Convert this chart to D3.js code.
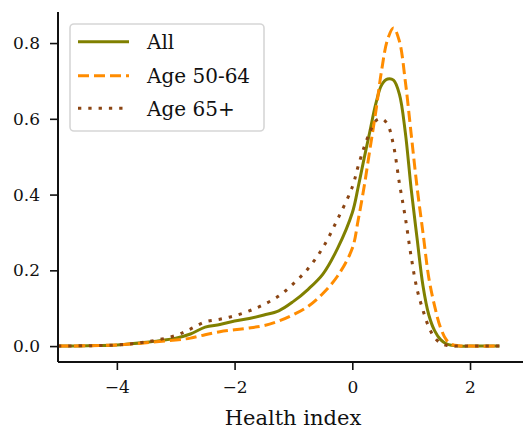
<!DOCTYPE html>
<html>
<head>
<meta charset="utf-8">
<script src="https://cdn.jsdelivr.net/npm/d3@7"></script>
<style>
  body { margin: 0; background: #fff; }
  #container { width: 523px; height: 430px; }
  text { font-family: "DejaVu Serif", serif; fill: #111; }
</style>
</head>
<body>
<div id="container"></div>
<script>
// health index grid (x) and density values
var healthIndex = [-5, -4.5, -4, -3.5, -3, -2.75, -2.5, -2.25, -2, -1.75, -1.5, -1.25, -1, -0.75, -0.5, -0.25,
  0, 0.1, 0.2, 0.3, 0.4, 0.5, 0.6, 0.7, 0.8, 0.9, 1.0, 1.1, 1.2, 1.3, 1.4, 1.5, 1.6, 1.7, 1.8, 2.0, 2.5];
var densityAll = [0, 0.001, 0.003, 0.01, 0.021, 0.032, 0.05, 0.057, 0.066, 0.073, 0.082, 0.093, 0.118, 0.15, 0.19, 0.258,
  0.352, 0.42, 0.495, 0.568, 0.64, 0.69, 0.705, 0.702, 0.665, 0.565, 0.415, 0.285, 0.16, 0.082, 0.04, 0.017, 0.006, 0.002, 0, 0, 0];
var density5064 = [0, 0.001, 0.003, 0.009, 0.016, 0.021, 0.03, 0.038, 0.043, 0.048, 0.054, 0.066, 0.083, 0.105, 0.139, 0.185,
  0.258, 0.333, 0.42, 0.52, 0.62, 0.73, 0.81, 0.84, 0.805, 0.70, 0.56, 0.42, 0.30, 0.18, 0.105, 0.048, 0.016, 0.004, 0.001, 0, 0];
var density65 = [0, 0.001, 0.003, 0.011, 0.028, 0.045, 0.064, 0.071, 0.08, 0.093, 0.11, 0.132, 0.165, 0.205, 0.26, 0.335,
  0.42, 0.475, 0.525, 0.565, 0.595, 0.60, 0.585, 0.53, 0.43, 0.34, 0.236, 0.15, 0.095, 0.05, 0.022, 0.008, 0.002, 0, 0, 0, 0];
var seriesNames = ["All", "Age 50-64", "Age 65+"];
var xTicks = [-4, -2, 0, 2];
var yTicks = [0.0, 0.2, 0.4, 0.6, 0.8];

var series = [
  { name: seriesNames[0], values: densityAll, color: "#808000", dash: null },
  { name: seriesNames[1], values: density5064, color: "#ff8c00", dash: "11,5" },
  { name: seriesNames[2], values: density65, color: "#8b4513", dash: "3.3,7" }
];

var svg = d3.select("#container").append("svg")
  .attr("width", 523).attr("height", 430);

var x = d3.scaleLinear().domain([-5, 2.9]).range([58, 523]);
var y = d3.scaleLinear().domain([-0.042, 0.882]).range([362, 12]);

// lines
var line = d3.line()
  .x(function (d) { return x(d[0]); })
  .y(function (d) { return y(Math.max(0, d[1])); })
  .curve(d3.curveCatmullRom.alpha(0.5));

svg.append("g").selectAll("path.series")
  .data(series)
  .enter()
  .append("path")
  .attr("class", "series")
  .attr("d", function (s) {
    return line(healthIndex.map(function (v, i) { return [v, s.values[i]]; }));
  })
  .attr("fill", "none")
  .attr("stroke", function (s) { return s.color; })
  .attr("stroke-width", 3)
  .attr("stroke-dasharray", function (s) { return s.dash; })
  .attr("stroke-linejoin", "round");

// axes
var xAxis = svg.append("g")
  .attr("transform", "translate(0,362)")
  .call(d3.axisBottom(x).tickValues(xTicks).tickSize(8).tickPadding(11)
    .tickFormat(function (d) { return d < 0 ? "\u2212" + Math.abs(d) : d; }));
var yAxis = svg.append("g")
  .attr("transform", "translate(58,0)")
  .call(d3.axisLeft(y).tickValues(yTicks).tickSize(8).tickPadding(10).tickFormat(d3.format(".1f")));

[xAxis, yAxis].forEach(function (a) {
  a.attr("font-size", 17).attr("font-family", "DejaVu Serif, serif");
  a.select(".domain").attr("stroke", "#111").attr("stroke-width", 2);
  a.selectAll(".tick line").attr("stroke", "#111").attr("stroke-width", 1.6);
  a.selectAll(".tick text").attr("fill", "#111");
});
xAxis.select(".domain").attr("d", "M58,0H523");
yAxis.select(".domain").attr("d", "M0,12V362");

svg.append("text")
  .attr("x", 293).attr("y", 425)
  .attr("text-anchor", "middle")
  .style("font-size", "21px")
  .text("Health index");

// legend
var legend = svg.append("g");
legend.append("rect")
  .attr("x", 70).attr("y", 24).attr("width", 194).attr("height", 107)
  .attr("rx", 4)
  .attr("fill", "#fff").attr("fill-opacity", 0.8)
  .attr("stroke", "#d6d6d6").attr("stroke-width", 1.6);

var items = legend.selectAll("g.legend-item")
  .data(series)
  .enter()
  .append("g")
  .attr("class", "legend-item")
  .attr("transform", function (d, i) { return "translate(0," + [41.7, 75.7, 108.3][i] + ")"; });
items.append("line")
  .attr("x1", 78).attr("x2", 129)
  .attr("stroke", function (d) { return d.color; })
  .attr("stroke-width", 3)
  .attr("stroke-dasharray", function (d) { return d.dash; });
items.append("text")
  .attr("x", 147)
  .attr("dy", "0.36em")
  .style("font-size", "20px")
  .text(function (d) { return d.name; });
</script>
</body>
</html>
